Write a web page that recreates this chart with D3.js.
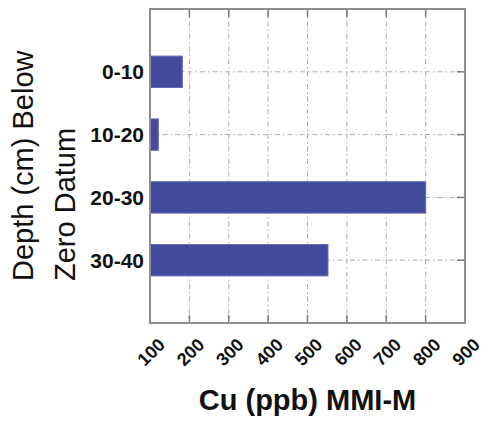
<!DOCTYPE html>
<html>
<head>
<meta charset="utf-8">
<script src="https://cdn.jsdelivr.net/npm/d3@7/dist/d3.min.js"></script>
<style>
  html, body { margin: 0; padding: 0; background: #fff; }
  svg { display: block; }
  text { font-family: "Liberation Sans", Arial, sans-serif; fill: #111; }
</style>
</head>
<body>
<svg id="chart" width="488" height="425"></svg>
<script>
// Copper (MMI-M) concentration by sampling depth
const depths = ["0-10", "10-20", "20-30", "30-40"];
const cuPpb = [182, 121, 800, 552];
const xTicks = [100, 200, 300, 400, 500, 600, 700, 800, 900];
const xTitle = "Cu (ppb) MMI-M";
const yTitleLines = ["Depth (cm) Below", "Zero Datum"];

const svg = d3.select("#chart");
const plot = { left: 150, right: 465, top: 9, bottom: 323 };

const x = d3.scaleLinear().domain([100, 900]).range([plot.left, plot.right]);
// depth classes sit at positions 1..4 on a 0..5 track
const y = d3.scaleLinear().domain([0, 5]).range([plot.top, plot.bottom]);
const barHalf = 0.25;

const gridColor = "#aaaaaa";
const frameColor = "#8e8e8e";

// dash-dot grid
const grid = svg.append("g");
grid.selectAll("line.v").data(xTicks.slice(1, -1)).join("line")
  .attr("x1", d => x(d)).attr("x2", d => x(d))
  .attr("y1", plot.top).attr("y2", plot.bottom)
  .attr("stroke", gridColor).attr("stroke-width", 1)
  .attr("stroke-dasharray", "5,3,1.5,3");
grid.selectAll("line.h").data(depths).join("line")
  .attr("x1", plot.left).attr("x2", plot.right)
  .attr("y1", (d, i) => y(i + 1)).attr("y2", (d, i) => y(i + 1))
  .attr("stroke", gridColor).attr("stroke-width", 1)
  .attr("stroke-dasharray", "5,3,1.5,3");

// inward tick marks on top, bottom and right edges
const tickLen = 8;
const ticks = svg.append("g").attr("stroke", "#7a7a7a").attr("stroke-width", 1.5);
ticks.selectAll("line.t").data(xTicks.slice(1, -1)).join("line")
  .attr("x1", d => x(d)).attr("x2", d => x(d))
  .attr("y1", plot.top).attr("y2", plot.top + tickLen);
ticks.selectAll("line.b").data(xTicks.slice(1, -1)).join("line")
  .attr("x1", d => x(d)).attr("x2", d => x(d))
  .attr("y1", plot.bottom).attr("y2", plot.bottom - tickLen);
ticks.selectAll("line.r").data(depths).join("line")
  .attr("x1", plot.right).attr("x2", plot.right - tickLen)
  .attr("y1", (d, i) => y(i + 1)).attr("y2", (d, i) => y(i + 1));

// bars
svg.append("g").selectAll("rect").data(cuPpb).join("rect")
  .attr("x", x(100))
  .attr("y", (d, i) => y(i + 1 - barHalf))
  .attr("width", d => x(d) - x(100))
  .attr("height", y(barHalf * 2) - y(0))
  .attr("fill", "#434b9f")
  .attr("stroke", "#6169b3")
  .attr("stroke-width", 1);

// plot frame
svg.append("rect")
  .attr("x", plot.left).attr("y", plot.top)
  .attr("width", plot.right - plot.left).attr("height", plot.bottom - plot.top)
  .attr("fill", "none").attr("stroke", frameColor).attr("stroke-width", 2);

// x tick labels, rotated
svg.append("g").selectAll("text").data(xTicks).join("text")
  .attr("transform", d => `translate(${x(d) + 1},352) rotate(-45)`)
  .attr("text-anchor", "middle")
  .attr("dy", "0.35em")
  .style("font-size", "18px")
  .style("font-weight", "bold")
  .text(d => d);

// depth labels
svg.append("g").selectAll("text").data(depths).join("text")
  .attr("x", 144)
  .attr("y", (d, i) => y(i + 1))
  .attr("dy", "0.36em")
  .attr("text-anchor", "end")
  .style("font-size", "21px")
  .style("font-weight", "bold")
  .text(d => d);

// axis titles
svg.append("text")
  .attr("x", (plot.left + plot.right) / 2)
  .attr("y", 410)
  .attr("text-anchor", "middle")
  .style("font-size", "29px")
  .style("font-weight", "bold")
  .text(xTitle);

svg.append("g").selectAll("text").data(yTitleLines).join("text")
  .attr("transform", (d, i) => `translate(${33 + i * 42},281) rotate(-90)`)
  .attr("text-anchor", "start")
  .style("font-size", "29px")
  .text(d => d);
</script>
</body>
</html>
